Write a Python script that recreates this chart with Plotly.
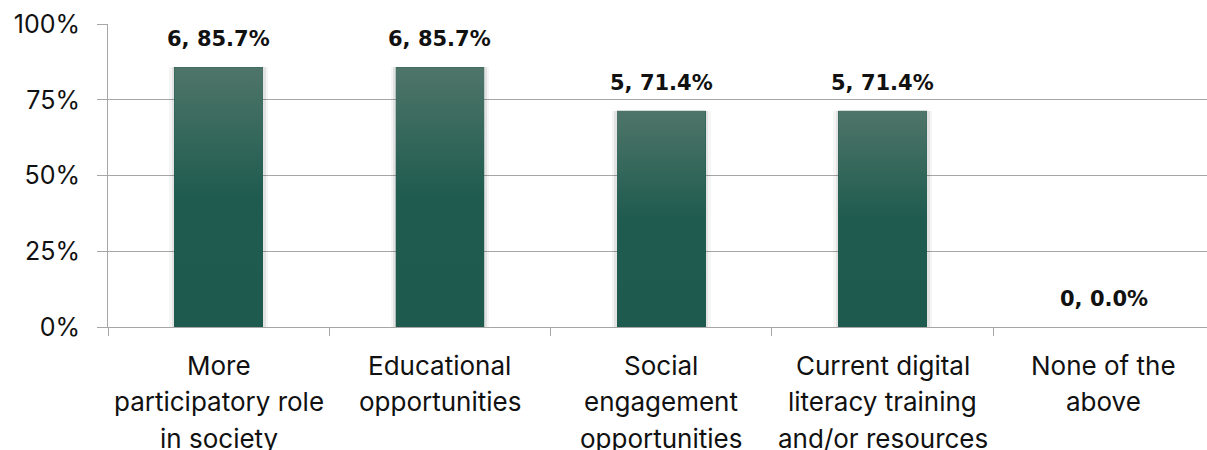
import plotly.graph_objects as go

# Survey responses (7 respondents)
categories = [
    "More<br>participatory role<br>in society",
    "Educational<br>opportunities",
    "Social<br>engagement<br>opportunities",
    "Current digital<br>literacy training<br>and/or resources",
    "None of the<br>above",
]
counts = [6, 6, 5, 5, 0]
percents = [85.7, 85.7, 71.4, 71.4, 0.0]
y_ticks = [0, 25, 50, 75, 100]
y_tick_labels = ["0%", "25%", "50%", "75%", "100%"]

DARK = "#1e5a4e"
LIGHT = "#4f7569"
GRID = "#a6a6a6"
BAR_W = 0.40
positions = list(range(len(categories)))

fig = go.Figure()

# soft shadow around each column
for extra, alpha in [(0.045, 0.04), (0.025, 0.07)]:
    fig.add_trace(go.Bar(
        x=positions, y=percents, width=BAR_W + extra,
        marker=dict(color=f"rgba(0,0,0,{alpha})", line=dict(width=0)),
        hoverinfo="skip", showlegend=False,
    ))

# the columns themselves
fig.add_trace(go.Bar(
    x=positions, y=percents, width=BAR_W,
    marker=dict(color=DARK, line=dict(width=0)),
    showlegend=False,
))

# vertical gradient laid over each column
for xi, v in zip(positions, percents):
    if v <= 0:
        continue
    x0, x1 = xi - BAR_W / 2, xi + BAR_W / 2
    fig.add_trace(go.Scatter(
        x=[x0, x0, x1, x1, x0], y=[0, v, v, 0, 0],
        mode="lines", line=dict(width=0), fill="toself",
        fillgradient=dict(
            type="vertical",
            colorscale=[[0, DARK], [0.5, "#1f5b4f"], [1, LIGHT]],
        ),
        hoverinfo="skip", showlegend=False,
    ))

annotations = []
# value labels above the columns
for xi, c, p in zip(positions, counts, percents):
    annotations.append(dict(
        x=xi, y=p, xref="x", yref="y", text=f"{c}, {p:.1f}%",
        showarrow=False, yshift=28, yanchor="middle",
        font=dict(family="DejaVu Sans", size=21, color="#111111", weight="bold"),
    ))

# wrapped category labels under the axis
for xi, cat in zip(positions, categories):
    for li, line in enumerate(cat.split("<br>")):
        annotations.append(dict(
            x=xi, y=0, xref="x", yref="y", text=line,
            showarrow=False, yanchor="middle", yshift=-38 - 36.5 * li,
            font=dict(family="Inter", size=26, color="#111111"),
        ))

fig.update_layout(
    width=1207, height=450,
    margin=dict(l=108, r=0, t=24, b=123),
    paper_bgcolor="white", plot_bgcolor="white",
    barmode="overlay", bargap=0,
    annotations=annotations,
    xaxis=dict(
        range=[-0.5, 4.466],
        tickvals=[p - 0.5 for p in positions] + [positions[-1] + 0.5],
        showticklabels=False,
        ticks="outside", ticklen=8, tickcolor=GRID, tickwidth=1,
        showgrid=False, zeroline=False,
        showline=True, linecolor=GRID, linewidth=1,
    ),
    yaxis=dict(
        range=[0, 100], tickvals=y_ticks, ticktext=y_tick_labels,
        ticks="outside", ticklen=10, tickcolor=GRID, tickwidth=1,
        ticklabelstandoff=12,
        showgrid=True, gridcolor=GRID, gridwidth=1,
        zeroline=False,
        showline=True, linecolor=GRID, linewidth=1,
        tickfont=dict(family="Inter", size=25, color="#111111"),
    ),
)

fig.write_html("out.html")
